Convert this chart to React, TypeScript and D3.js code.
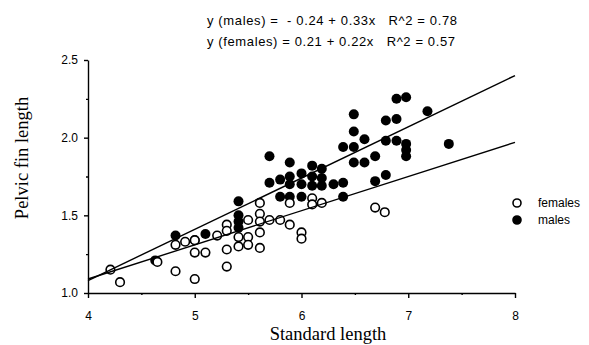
import React, { useRef, useEffect } from 'react';
import * as d3 from 'd3';

// standard length, pelvic fin length
const males: [number, number][] = [
  [4.63, 1.21], [4.82, 1.37], [5.0, 1.34], [5.1, 1.38],
  [5.41, 1.59], [5.41, 1.5], [5.41, 1.46], [5.41, 1.42],
  [5.7, 1.88], [5.7, 1.71], [5.8, 1.73], [5.8, 1.62],
  [5.89, 1.84], [5.89, 1.75], [5.89, 1.7], [5.89, 1.62],
  [6.0, 1.77], [6.0, 1.7], [6.0, 1.62], [6.1, 1.82],
  [6.1, 1.75], [6.1, 1.69], [6.19, 1.8], [6.19, 1.74],
  [6.19, 1.69], [6.3, 1.7], [6.39, 1.71], [6.39, 1.62],
  [6.39, 1.94], [6.49, 2.15], [6.49, 2.04], [6.49, 1.94],
  [6.49, 1.84], [6.59, 1.99], [6.59, 1.84], [6.69, 1.88],
  [6.69, 1.72], [6.79, 2.11], [6.79, 1.98], [6.79, 1.76],
  [6.89, 2.25], [6.89, 2.12], [6.89, 1.98], [6.98, 2.26],
  [6.98, 1.96], [6.98, 1.92], [6.98, 1.88], [7.18, 2.17],
  [7.38, 1.96],
];

const females: [number, number][] = [
  [4.21, 1.15], [4.3, 1.07], [4.65, 1.2], [4.82, 1.31],
  [4.82, 1.14], [4.91, 1.33], [5.0, 1.34], [5.0, 1.26],
  [5.0, 1.09], [5.1, 1.26], [5.21, 1.37], [5.3, 1.44],
  [5.3, 1.4], [5.3, 1.28], [5.3, 1.17], [5.41, 1.36],
  [5.41, 1.3], [5.5, 1.47], [5.5, 1.36], [5.5, 1.31],
  [5.61, 1.58], [5.61, 1.51], [5.61, 1.46], [5.61, 1.39],
  [5.61, 1.29], [5.7, 1.47], [5.8, 1.47], [5.89, 1.58],
  [5.89, 1.44], [6.0, 1.39], [6.0, 1.35], [6.1, 1.61],
  [6.1, 1.57], [6.19, 1.58], [6.69, 1.55], [6.78, 1.52],
];

// regression: intercept, slope
const maleFit = [-0.24, 0.33];
const femaleFit = [0.21, 0.22];

const titleLines = [
  'y (males) =  - 0.24 + 0.33x   R^2 = 0.78',
  'y (females) = 0.21 + 0.22x   R^2 = 0.57',
];

const xTicks = [4, 5, 6, 7, 8];
const xMinor = [4.5, 5.5, 6.5, 7.5];
const yTicks = [1.0, 1.5, 2.0, 2.5];
const yMinor = [1.25, 1.75, 2.25];

const legendItems = ['females', 'males'];

const W = 589;
const H = 345;

export default function App() {
  const svgRef = useRef<SVGSVGElement>(null);

  useEffect(() => {
    if (!svgRef.current) return;
    const svg = d3.select(svgRef.current);
    svg.selectAll('*').remove();

    const sans = 'Liberation Sans, Arial, sans-serif';
    const serif = 'Liberation Serif, Times New Roman, serif';

    const x = d3.scaleLinear().domain([4, 8]).range([88, 515]);
    const y = d3.scaleLinear().domain([1, 2.5]).range([293, 60]);

    // title
    svg.append('g')
      .selectAll('text')
      .data(titleLines)
      .enter()
      .append('text')
      .attr('x', 207)
      .attr('y', (d, i) => 25 + i * 21)
      .attr('font-family', sans)
      .attr('font-size', '13px')
      .attr('fill', '#000')
      .attr('textLength', (d, i) => (i === 0 ? 250 : 248))
      .attr('lengthAdjust', 'spacing')
      .style('white-space', 'pre')
      .text(d => d);

    // axes
    const yAxis = svg.append('g')
      .attr('transform', `translate(${x(4)},0)`)
      .call(d3.axisLeft(y).tickValues(yTicks).tickSize(4).tickSizeOuter(0)
        .tickFormat(d3.format('.1f')));
    svg.append('g')
      .attr('transform', `translate(${x(4)},0)`)
      .call(d3.axisLeft(y).tickValues(yMinor).tickSize(2).tickFormat(() => ''))
      .select('.domain').remove();

    const xAxis = svg.append('g')
      .attr('transform', `translate(0,${y(1)})`)
      .call(d3.axisBottom(x).tickValues(xTicks).tickSize(5).tickSizeOuter(0)
        .tickFormat(d3.format('d')));
    svg.append('g')
      .attr('transform', `translate(0,${y(1)})`)
      .call(d3.axisBottom(x).tickValues(xMinor).tickSize(2).tickFormat(() => ''))
      .select('.domain').remove();

    [yAxis, xAxis].forEach(a => {
      a.selectAll('path, line').attr('stroke', '#000').attr('stroke-width', 1.4);
      a.selectAll('text')
        .attr('font-family', sans)
        .attr('font-size', '12px')
        .attr('fill', '#000');
    });
    yAxis.selectAll('text').attr('x', -10);
    xAxis.selectAll('text').attr('y', 18);
    svg.selectAll('.tick line').attr('stroke', '#000').attr('stroke-width', 1.4);

    // points
    svg.append('g')
      .selectAll('circle')
      .data(males)
      .enter()
      .append('circle')
      .attr('cx', d => x(d[0]))
      .attr('cy', d => y(d[1]))
      .attr('r', 5)
      .attr('fill', '#000');

    svg.append('g')
      .selectAll('circle')
      .data(females)
      .enter()
      .append('circle')
      .attr('cx', d => x(d[0]))
      .attr('cy', d => y(d[1]))
      .attr('r', 4.3)
      .attr('fill', '#fff')
      .attr('stroke', '#000')
      .attr('stroke-width', 1.6);

    // regression lines
    [maleFit, femaleFit].forEach(([a, b]) => {
      svg.append('line')
        .attr('x1', x(4))
        .attr('y1', y(a + b * 4))
        .attr('x2', x(8))
        .attr('y2', y(a + b * 8))
        .attr('stroke', '#000')
        .attr('stroke-width', 1.4);
    });

    // axis titles
    svg.append('text')
      .attr('transform', `translate(28,158) rotate(-90)`)
      .attr('text-anchor', 'middle')
      .attr('font-family', serif)
      .attr('font-size', '18.5px')
      .attr('fill', '#000')
      .text('Pelvic fin length');

    svg.append('text')
      .attr('x', 328)
      .attr('y', 340)
      .attr('text-anchor', 'middle')
      .attr('font-family', serif)
      .attr('font-size', '18.5px')
      .attr('fill', '#000')
      .text('Standard length');

    // legend
    const legend = svg.append('g').attr('transform', 'translate(517,203)');
    legend.selectAll('circle')
      .data(legendItems)
      .enter()
      .append('circle')
      .attr('cx', 0)
      .attr('cy', (d, i) => i * 17)
      .attr('r', 4)
      .attr('fill', (d, i) => (i === 0 ? '#fff' : '#000'))
      .attr('stroke', '#000')
      .attr('stroke-width', 1.6);
    legend.selectAll('text')
      .data(legendItems)
      .enter()
      .append('text')
      .attr('x', 21)
      .attr('y', (d, i) => i * 17 + 4)
      .attr('font-family', sans)
      .attr('font-size', '12px')
      .attr('fill', '#000')
      .text(d => d);
  }, []);

  return (
    <svg
      ref={svgRef}
      width={W}
      height={H}
      style={{ position: 'absolute', left: 0, top: 0, background: '#fff' }}
    />
  );
}
